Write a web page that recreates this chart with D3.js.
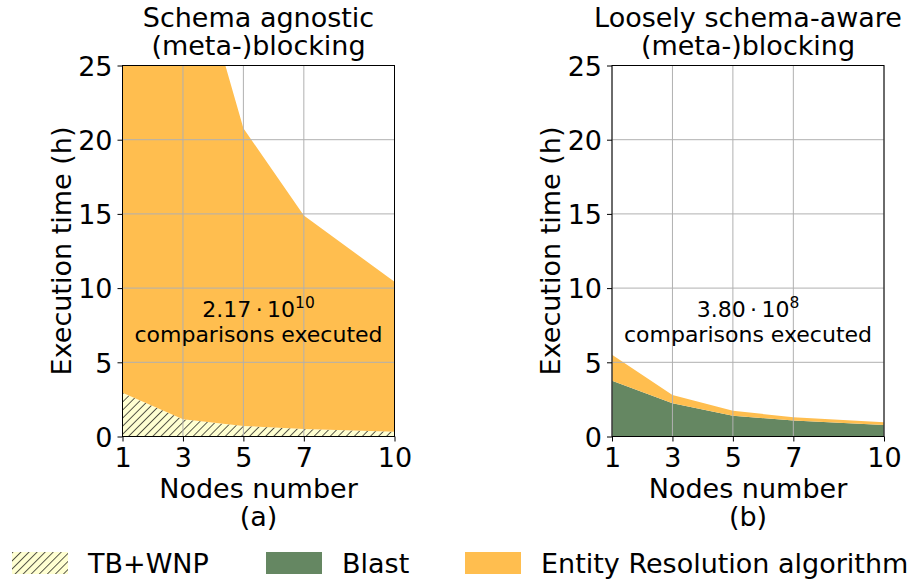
<!DOCTYPE html>
<html>
<head>
<meta charset="utf-8">
<script src="https://cdn.jsdelivr.net/npm/d3@7"></script>
<style>
  body { margin: 0; background: #fff; }
  text { font-family: "DejaVu Sans", sans-serif; fill: #000; }
  .axis path, .axis line { stroke: #000; }
  .grid line { stroke: #b0b0b0; stroke-width: 1; }
</style>
</head>
<body>
<div id="chart"></div>
<script>
// nodes on the x axis
const nodes = [1, 3, 5, 7, 10];

// schema agnostic: TB+WNP blocking time and ER time on top (hours)
const agnosticTbwnp = [2.95, 1.16, 0.71, 0.50, 0.32];
const agnosticEr = [101.0, 33.8, 20.06, 14.4, 10.1];

// loosely schema-aware: Blast time and ER time on top (hours)
const awareBlast = [3.76, 2.24, 1.40, 1.07, 0.78];
const awareEr = [1.75, 0.56, 0.34, 0.22, 0.18];

const yTicks = [0, 5, 10, 15, 20, 25];
const legendItems = ["TB+WNP", "Blast", "Entity Resolution algorithm"];

const orange = "#ffbe4f",
  green = "#658762",
  cream = "#ffffd2";

const width = 917, height = 583;
const plotTop = 65.5, plotBottom = 436.5;
const fs = "27px";

const svg = d3.select("#chart")
  .append("svg")
  .attr("width", width)
  .attr("height", height);

const defs = svg.append("defs");
const hatch = defs.append("pattern")
  .attr("id", "hatch")
  .attr("patternUnits", "userSpaceOnUse")
  .attr("width", 5.7)
  .attr("height", 5.7)
  .attr("patternTransform", "rotate(45)");
hatch.append("rect")
  .attr("width", 5.7).attr("height", 5.7)
  .style("fill", cream);
hatch.append("line")
  .attr("x1", 0).attr("y1", 0).attr("x2", 0).attr("y2", 5.7)
  .style("stroke", "#000")
  .style("stroke-width", 1.3);

function panel(opts) {
  const x = d3.scaleLinear().domain([1, 10]).range([opts.left, opts.left + 272]);
  const y = d3.scaleLinear().domain([0, 25]).range([plotBottom, plotTop]);

  const rows = nodes.map((n, i) => ({ n: n, base: opts.base[i], er: opts.er[i] }));
  const stacked = d3.stack().keys(["base", "er"])(rows);

  const g = svg.append("g");

  defs.append("clipPath")
    .attr("id", opts.id + "-clip")
    .append("rect")
    .attr("x", x(1)).attr("y", plotTop)
    .attr("width", x(10) - x(1)).attr("height", plotBottom - plotTop);

  const area = d3.area()
    .x((d) => x(d.data.n))
    .y0((d) => y(d[0]))
    .y1((d) => y(d[1]));

  g.append("g")
    .attr("clip-path", "url(#" + opts.id + "-clip)")
    .selectAll("path")
    .data(stacked)
    .enter()
    .append("path")
    .attr("d", area)
    .style("fill", (d, i) => i == 0 ? opts.baseFill : orange);

  // grid on top of the areas
  const grid = g.append("g").attr("class", "grid");
  grid.selectAll(".gx")
    .data(nodes)
    .enter()
    .append("line")
    .attr("x1", (d) => x(d)).attr("x2", (d) => x(d))
    .attr("y1", plotTop).attr("y2", plotBottom);
  grid.selectAll(".gy")
    .data(yTicks)
    .enter()
    .append("line")
    .attr("x1", x(1)).attr("x2", x(10))
    .attr("y1", (d) => y(d)).attr("y2", (d) => y(d));

  // frame
  g.append("rect")
    .attr("x", x(1)).attr("y", plotTop)
    .attr("width", x(10) - x(1)).attr("height", plotBottom - plotTop)
    .style("fill", "none")
    .style("stroke", "#000")
    .style("stroke-width", 1);

  const xAxis = d3.axisBottom(x).tickValues(nodes).tickSize(5).tickPadding(2);
  const yAxis = d3.axisLeft(y).tickValues(yTicks).tickSize(5).tickPadding(5);

  g.append("g")
    .attr("class", "axis")
    .attr("transform", "translate(0," + plotBottom + ")")
    .call(xAxis)
    .call((s) => s.select(".domain").remove())
    .selectAll("text")
    .style("font-size", fs)
    .attr("y", 30.5)
    .attr("dy", null);

  g.append("g")
    .attr("class", "axis")
    .attr("transform", "translate(" + x(1) + ",0)")
    .call(yAxis)
    .call((s) => s.select(".domain").remove())
    .selectAll("text")
    .style("font-size", fs)
    .attr("dy", "0.36em");

  const cx = (x(1) + x(10)) / 2;

  g.append("text")
    .text(opts.title[0])
    .attr("x", cx).attr("y", 27)
    .attr("text-anchor", "middle")
    .style("font-size", fs);
  g.append("text")
    .text(opts.title[1])
    .attr("x", cx).attr("y", 54.5)
    .attr("text-anchor", "middle")
    .style("font-size", fs);

  g.append("text")
    .text("Nodes number")
    .attr("x", cx).attr("y", 498)
    .attr("text-anchor", "middle")
    .style("font-size", fs);
  g.append("text")
    .text(opts.tag)
    .attr("x", cx).attr("y", 526)
    .attr("text-anchor", "middle")
    .style("font-size", fs);

  g.append("text")
    .text("Execution time (h)")
    .attr("transform", "translate(" + (x(1) - 52) + "," + ((plotTop + plotBottom) / 2) + ") rotate(-90)")
    .attr("text-anchor", "middle")
    .style("font-size", fs);

  // comparisons annotation
  const note = g.append("text")
    .attr("x", cx).attr("y", 317)
    .attr("text-anchor", "middle")
    .style("font-size", "22px");
  note.append("tspan").text(opts.mantissa + "\u2009\u00b7\u200910");
  note.append("tspan")
    .text(opts.exponent)
    .attr("dy", -9)
    .style("font-size", "15.5px");
  g.append("text")
    .text("comparisons executed")
    .attr("x", cx).attr("y", 342)
    .attr("text-anchor", "middle")
    .style("font-size", "22px");
}

panel({
  id: "agnostic", left: 122.5,
  base: agnosticTbwnp, er: agnosticEr, baseFill: "url(#hatch)",
  title: ["Schema agnostic", "(meta-)blocking"], tag: "(a)",
  mantissa: "2.17", exponent: "10"
});

panel({
  id: "aware", left: 612,
  base: awareBlast, er: awareEr, baseFill: green,
  title: ["Loosely schema-aware", "(meta-)blocking"], tag: "(b)",
  mantissa: "3.80", exponent: "8"
});

// legend along the bottom
const legendX = [12, 266, 465];
const legend = svg.append("g").attr("id", "legend");
const fills = ["url(#hatch)", green, orange];
legendItems.forEach(function(name, i) {
  legend.append("rect")
    .attr("x", legendX[i]).attr("y", 552)
    .attr("width", 56).attr("height", 22)
    .style("fill", fills[i]);
  legend.append("text")
    .text(name)
    .attr("x", legendX[i] + 76).attr("y", 573)
    .style("font-size", fs);
});
</script>
</body>
</html>
